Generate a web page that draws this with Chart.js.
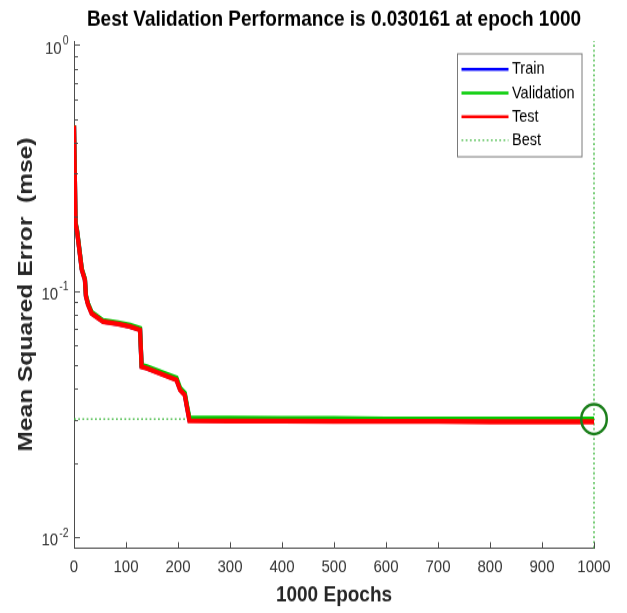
<!DOCTYPE html>
<html>
<head>
<meta charset="utf-8">
<title>Training performance</title>
<script src="https://cdn.jsdelivr.net/npm/chart.js@4"></script>
<style>
  html, body { margin: 0; padding: 0; background: #fff; width: 627px; height: 613px; }
  /* the figure is drawn on a 627x524 canvas and stretched vertically to 613px */
  #frame { width: 627px; height: 524px; transform: scaleY(1.17); transform-origin: 0 0; }
  canvas { display: block; }
</style>
</head>
<body>
<div id="frame"><canvas id="perf" width="627" height="524"></canvas></div>
<script>
// ---- data -------------------------------------------------------------
const epochs = [0, 3, 6, 15, 21, 23, 27, 34, 56, 85, 108, 127, 130, 140, 197, 204, 213, 217, 222,
                300, 400, 500, 600, 700, 800, 900, 1000];

const trainMse = [0.470, 0.189, 0.175, 0.1222, 0.1113, 0.0953, 0.0883, 0.0813, 0.0752, 0.0736,
                  0.0718, 0.0697, 0.0494, 0.0487, 0.0437, 0.0398, 0.0380, 0.0341, 0.0299,
                  0.0298, 0.0298, 0.0297, 0.0297, 0.0297, 0.0296, 0.0296, 0.0296];

const validationMse = [0.472, 0.190, 0.176, 0.1230, 0.1120, 0.0960, 0.0890, 0.0820, 0.0758, 0.0742,
                       0.0726, 0.0705, 0.0499, 0.0493, 0.0443, 0.0403, 0.0385, 0.0345, 0.0305,
                       0.0304, 0.0303, 0.0303, 0.0302, 0.0302, 0.0302, 0.0302, 0.030161];

const testMse = [0.470, 0.188, 0.174, 0.1220, 0.1110, 0.0950, 0.0880, 0.0810, 0.0750, 0.0734,
                 0.0716, 0.0694, 0.0492, 0.0485, 0.0435, 0.0396, 0.0378, 0.0339, 0.0297,
                 0.0296, 0.0296, 0.0295, 0.0295, 0.0295, 0.0294, 0.0294, 0.0294];

const bestEpoch = 1000;
const bestValue = 0.030161;

const xRange = [0, 1000];
const yRange = [0.00902, 1.038];
const xTickValues = [0, 100, 200, 300, 400, 500, 600, 700, 800, 900, 1000];

// ---- styling ----------------------------------------------------------
const FONT = '"Liberation Sans", Arial, Helvetica, sans-serif';
const AXIS_COLOR = '#4d4d4d';
const LABEL_COLOR = '#333333';

const toPoints = (xs, ys) => xs.map((x, i) => ({ x, y: ys[i] }));
const isPowerOfTen = (v) => Math.abs(Math.log10(v) - Math.round(Math.log10(v))) < 1e-6;

// inward tick marks on both axes (major and log-minor)
const inwardTicks = {
  id: 'inwardTicks',
  afterDraw(chart) {
    const { ctx, chartArea: a, scales: { x, y } } = chart;
    ctx.save();
    ctx.strokeStyle = AXIS_COLOR;
    ctx.lineWidth = 1;
    ctx.beginPath();
    xTickValues.forEach(v => {
      const px = Math.round(x.getPixelForValue(v)) + 0.5;
      ctx.moveTo(px, a.bottom);
      ctx.lineTo(px, a.bottom - 5);
    });
    for (let e = -3; e <= 0; e++) {
      for (let k = 1; k <= 9; k++) {
        const v = k * Math.pow(10, e);
        if (v < yRange[0] || v > yRange[1]) continue;
        const py = Math.round(y.getPixelForValue(v)) + 0.5;
        ctx.moveTo(a.left, py);
        ctx.lineTo(a.left + (k === 1 ? 6 : 4), py);
      }
    }
    ctx.stroke();
    ctx.restore();
  }
};

// "10" with a raised exponent for each decade tick of the log axis
const decadeLabels = {
  id: 'decadeLabels',
  afterDraw(chart) {
    const { ctx, chartArea: a, scales: { y } } = chart;
    ctx.save();
    ctx.fillStyle = LABEL_COLOR;
    ctx.textAlign = 'right';
    ctx.textBaseline = 'middle';
    y.ticks.filter(t => isPowerOfTen(t.value)).forEach(t => {
      const py = y.getPixelForValue(t.value);
      const exp = String(Math.round(Math.log10(t.value)));
      const right = a.left - 5.5;
      ctx.font = '10.5px ' + FONT;
      const expWidth = ctx.measureText(exp).width;
      ctx.fillText(exp, right, py - 3.2);
      ctx.font = '15px ' + FONT;
      ctx.fillText('10', right - expWidth - 1, py + 3.2);
    });
    ctx.restore();
  }
};

// boxed legend in the upper right corner of the axes
const boxLegend = {
  id: 'boxLegend',
  afterDraw(chart) {
    const ctx = chart.ctx;
    const box = { x: 457, y: 45.5, w: 124.5, h: 88 };
    const entries = chart.data.datasets.filter(d => d.inLegend);
    ctx.save();
    ctx.fillStyle = '#ffffff';
    ctx.fillRect(box.x, box.y, box.w, box.h);
    ctx.strokeStyle = '#7a7a7a';
    ctx.lineWidth = 1;
    ctx.strokeRect(box.x + 0.5, box.y + 0.5, box.w, box.h);
    ctx.font = '14.5px ' + FONT;
    ctx.textAlign = 'left';
    ctx.textBaseline = 'middle';
    entries.forEach((d, i) => {
      const yy = 59.3 + i * 20.2;
      ctx.beginPath();
      ctx.strokeStyle = d.borderColor;
      ctx.lineWidth = d.borderDash ? 1.4 : 2.6;
      ctx.setLineDash(d.borderDash || []);
      ctx.moveTo(461.5, yy);
      ctx.lineTo(508.5, yy);
      ctx.stroke();
      ctx.setLineDash([]);
      ctx.fillStyle = '#000000';
      ctx.fillText(d.label, 512, yy);
    });
    ctx.restore();
  }
};

const lineStyle = { borderWidth: 4.3, pointRadius: 0, tension: 0, fill: false, borderJoinStyle: 'miter' };
const bestDash = [1.8, 2.4];
const bestColor = '#3fb83f';

new Chart(document.getElementById('perf'), {
  type: 'line',
  data: {
    datasets: [
      { label: 'Train', data: toPoints(epochs, trainMse), borderColor: '#0000ff', order: 3, inLegend: true, ...lineStyle },
      { label: 'Validation', data: toPoints(epochs, validationMse), borderColor: '#00cc00', order: 2, inLegend: true, ...lineStyle },
      { label: 'Test', data: toPoints(epochs, testMse), borderColor: '#ff0000', order: 1, inLegend: true, ...lineStyle },
      { label: 'Best', data: [{ x: xRange[0], y: bestValue }, { x: bestEpoch, y: bestValue }],
        borderColor: bestColor, borderDash: bestDash, borderWidth: 1.4, pointRadius: 0, order: 4, inLegend: true },
      { label: 'Best epoch', data: [{ x: bestEpoch, y: yRange[0] }, { x: bestEpoch, y: yRange[1] }],
        borderColor: bestColor, borderDash: bestDash, borderWidth: 1.4, pointRadius: 0, order: 4, clip: false },
      { label: 'Best point', data: [{ x: bestEpoch, y: bestValue }], showLine: false,
        pointStyle: 'circle', pointRadius: 12.75, pointBorderWidth: 2.5,
        pointBorderColor: '#1b7f1b', pointBackgroundColor: 'rgba(0,0,0,0)', order: 0, clip: false }
    ]
  },
  options: {
    responsive: false,
    animation: false,
    events: [],
    devicePixelRatio: 1,
    layout: { padding: { left: 0, right: 33, top: 0, bottom: 0 } },
    plugins: {
      legend: { display: false },
      tooltip: { enabled: false },
      title: {
        display: true,
        fullSize: false,
        text: 'Best Validation Performance is ' + bestValue.toFixed(6) + ' at epoch ' + bestEpoch,
        color: '#000000',
        font: { family: FONT, size: 19, weight: 'bold' },
        padding: { top: 5.3, bottom: 6.9 }
      }
    },
    scales: {
      x: {
        type: 'linear',
        min: xRange[0],
        max: xRange[1],
        afterFit: (s) => { s.height = 55.6; },
        grid: { display: true, drawOnChartArea: false, drawTicks: false },
        border: { display: true, color: AXIS_COLOR, width: 1 },
        ticks: {
          stepSize: 100,
          padding: 7.4,
          color: LABEL_COLOR,
          font: { family: FONT, size: 15 },
          maxRotation: 0,
          autoSkip: false,
          callback: (v) => String(v)
        },
        title: {
          display: true,
          text: '1000 Epochs',
          color: '#262626',
          font: { family: FONT, size: 19, weight: 'bold' },
          padding: { top: 0, bottom: 3.4 }
        }
      },
      y: {
        type: 'logarithmic',
        min: yRange[0],
        max: yRange[1],
        afterFit: (s) => { s.width = 74; },
        grid: { display: true, drawOnChartArea: false, drawTicks: false },
        border: { display: true, color: AXIS_COLOR, width: 1 },
        ticks: { display: false, autoSkip: false },
        title: {
          display: true,
          text: 'Mean Squared Error  (mse)',
          color: '#262626',
          font: { family: FONT, size: 21, weight: 'bold' },
          padding: { top: 14, bottom: 0 }
        }
      }
    }
  },
  plugins: [inwardTicks, decadeLabels, boxLegend]
});
</script>
</body>
</html>
